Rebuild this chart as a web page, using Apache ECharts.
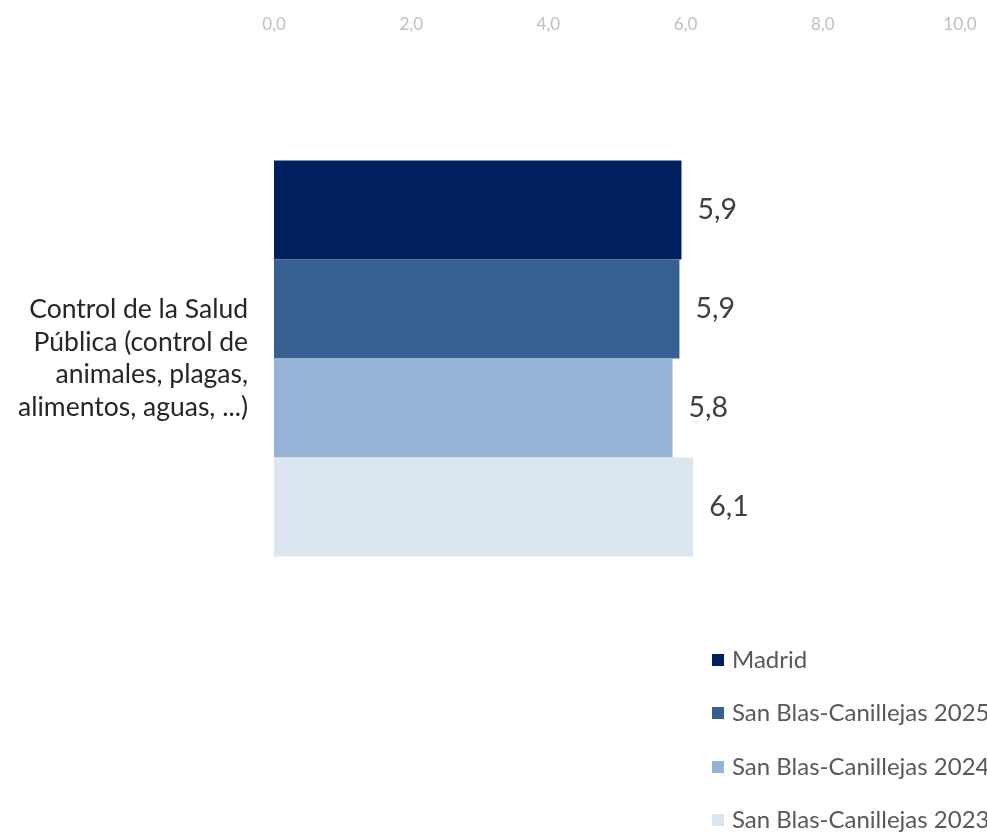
<!DOCTYPE html>
<html>
<head>
<meta charset="utf-8">
<script src="https://cdn.jsdelivr.net/npm/echarts@6/dist/echarts.min.js"></script>
<style>html,body{margin:0;padding:0;background:#fff}#c{width:987px;height:832px}</style>
</head>
<body>
<div id="c"></div>
<script>
var categories = ['Control de la Salud\nPública (control de\nanimales, plagas,\nalimentos, aguas, ...)'];
var seriesNames = ['Madrid', 'San Blas-Canillejas 2025', 'San Blas-Canillejas 2024', 'San Blas-Canillejas 2023'];
var madrid = [5.94];
var sb2025 = [5.91];
var sb2024 = [5.81];
var sb2023 = [6.11];
var colors = ['#002060', '#376092', '#95B3D7', '#DCE6F1'];

var values = [madrid, sb2025, sb2024, sb2023];
var legendTops = [648, 701, 755, 808];
var chart = echarts.init(document.getElementById('c'));
chart.setOption({
  animation: false,
  grid: { left: 274, right: 27, top: 50, height: 617 },
  xAxis: {
    type: 'value', position: 'top', min: 0, max: 10, interval: 2,
    axisLine: { show: false }, axisTick: { show: false }, splitLine: { show: false },
    axisLabel: { color: '#BFBFBF', fontSize: 17, fontFamily: 'Lato', margin: 17,
      formatter: function (v) { return v.toFixed(1).replace('.', ','); } }
  },
  yAxis: {
    type: 'category', data: categories, inverse: true,
    axisLine: { show: false }, axisTick: { show: false },
    axisLabel: { color: '#262626', fontSize: 26.5, fontFamily: 'Lato', lineHeight: 32.7, margin: 26, align: 'right' }
  },
  legend: seriesNames.map(function (n, i) {
    return {
      orient: 'vertical', left: 712, top: legendTops[i], padding: 0, itemWidth: 12, itemHeight: 12,
      icon: 'rect',
      textStyle: { color: '#595959', fontSize: 24, fontFamily: 'Lato', padding: [0, 0, 0, 3] },
      data: [n]
    };
  }),
  series: seriesNames.map(function (n, i) {
    return {
      name: n, type: 'bar', data: values[i], barWidth: 99, barGap: '0%',
      itemStyle: { color: colors[i] },
      label: { show: true, position: 'right', distance: 16, color: '#404040', fontSize: 28.5, fontFamily: 'Lato',
        formatter: function (p) { return p.value.toFixed(1).replace('.', ','); } }
    };
  })
});
</script>
</body>
</html>
